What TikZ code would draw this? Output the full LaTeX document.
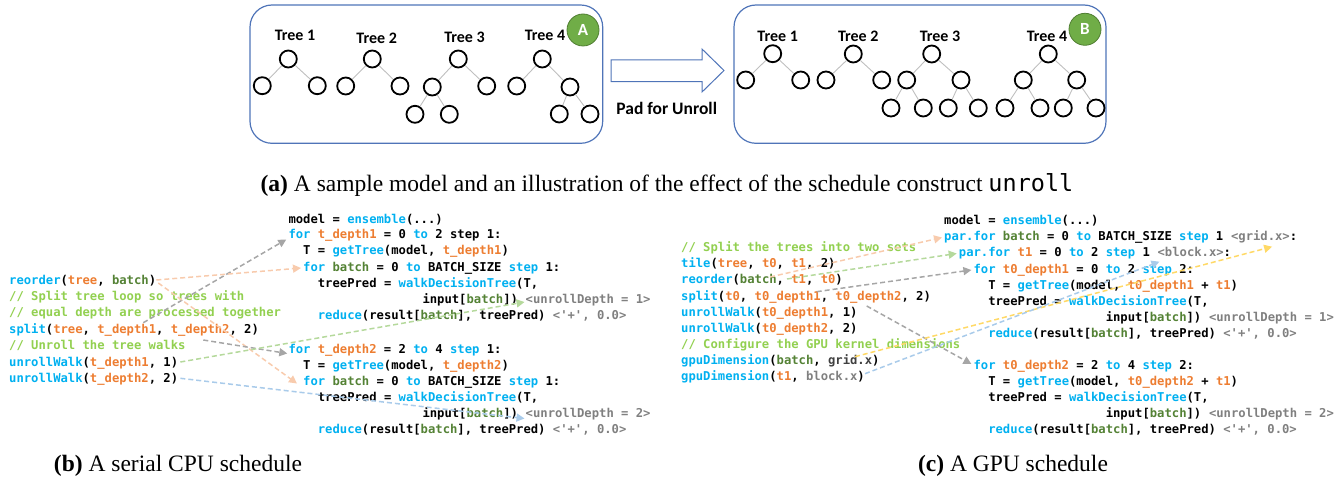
\documentclass[tikz,border=0pt]{standalone}
\usepackage{fontspec}
\setmainfont{Liberation Serif}
\setmonofont{DejaVu Sans Mono}
\newfontfamily\calfont{Carlito}
\usetikzlibrary{arrows.meta}
\definecolor{kwblue}{HTML}{00B0F0}
\definecolor{orng}{HTML}{ED7D31}
\definecolor{dgreen}{HTML}{548235}
\definecolor{cgreen}{HTML}{92D050}
\definecolor{anngrey}{HTML}{808080}
\definecolor{panelblue}{HTML}{4F74B8}
\definecolor{badgegreen}{HTML}{70AD47}
\definecolor{badgeedge}{HTML}{507E32}
\definecolor{agrey}{HTML}{A6A6A6}
\definecolor{apeach}{HTML}{F8CBAD}
\definecolor{agreen}{HTML}{B5D99C}
\definecolor{ablue}{HTML}{A9CBEA}
\definecolor{ayellow}{HTML}{FFD966}
\newcommand\kw[1]{\textcolor{kwblue}{#1}}
\newcommand\orv[1]{\textcolor{orng}{#1}}
\newcommand\btc[1]{\textcolor{dgreen}{#1}}
\newcommand\cmt[1]{\textcolor{cgreen}{#1}}
\newcommand\ann[1]{\textcolor{anngrey}{#1}}
\begin{document}
\begin{tikzpicture}[x=1pt,y=-1pt,
  code/.style={anchor=west, inner sep=0pt, text height=9pt, text depth=3pt,
    font=\ttfamily\bfseries\fontsize{12.2}{14}\selectfont},
  tnode/.style={circle, draw=black, line width=1.8pt, minimum size=17pt, inner sep=0pt},
  tedge/.style={draw=black!25, line width=0.9pt},
  tlabel/.style={inner sep=0pt, font=\calfont\bfseries\fontsize{16}{18}\selectfont},
  panel/.style={draw=panelblue, line width=1.2pt, rounded corners=22pt},
  badge/.style={circle, fill=badgegreen, draw=badgeedge, line width=0.8pt, minimum size=32pt,
    inner sep=0pt, text=white, font=\calfont\bfseries\fontsize{17}{20}\selectfont},
  blockarrow/.style={draw=panelblue, line width=1pt, fill=white},
  caption/.style={inner sep=0pt, font=\fontsize{23.5}{26}\selectfont},
  dar/.style={dash pattern=on 5pt off 3pt, line width=1.5pt, -{Triangle[length=8pt,width=8pt]}}
]
\useasboundingbox (0,0) rectangle (1334,484);

% ---------- panel A ----------
\draw[panel] (250,5) rectangle (602.7,143.3);
\node[tlabel] (a1t) at (295,35.7) {Tree 1};
\node[tnode] (a1r) at (288.3,59) {};
\node[tnode] (a1l) at (262.3,85.7) {};
\node[tnode] (a1rr) at (317.3,85.7) {};
\draw[tedge] (a1r) -- (a1l) (a1r) -- (a1rr);
\node[tlabel] (a2t) at (376.7,38) {Tree 2};
\node[tnode] (a2r) at (372.3,59) {};
\node[tnode] (a2l) at (345.7,86) {};
\node[tnode] (a2rr) at (400,86) {};
\draw[tedge] (a2r) -- (a2l) (a2r) -- (a2rr);
\node[tlabel] (a3t) at (464.5,37) {Tree 3};
\node[tnode] (a3r) at (458.3,59) {};
\node[tnode] (a3l) at (432.3,87) {};
\node[tnode] (a3rr) at (486.7,86) {};
\node[tnode] (a3ll) at (415,114.3) {};
\node[tnode] (a3lr) at (449.3,114.3) {};
\draw[tedge] (a3r) -- (a3l) (a3r) -- (a3rr) (a3l) -- (a3ll) (a3l) -- (a3lr);
\node[tlabel] (a4t) at (545,35.7) {Tree 4};
\node[tnode] (a4r) at (542.3,59) {};
\node[tnode] (a4l) at (516.7,86) {};
\node[tnode] (a4rr) at (570,87) {};
\node[tnode] (a4rl) at (559.3,114) {};
\node[tnode] (a4rrr) at (590,114) {};
\draw[tedge] (a4r) -- (a4l) (a4r) -- (a4rr) (a4rr) -- (a4rl) (a4rr) -- (a4rrr);
\node[badge] (bA) at (583,30) {A};

% ---------- block arrow ----------
\draw[blockarrow] (611,60) -- (702,60) -- (702,49) -- (724,70.5) -- (702,92) -- (702,81.7) -- (611,81.7) -- cycle;
\node[tlabel, font=\calfont\bfseries\fontsize{17.5}{20}\selectfont] (pad) at (666.7,108) {Pad for Unroll};

% ---------- panel B ----------
\draw[panel] (734,5) rectangle (1106,143.3);
\node[tlabel] (b1t) at (777.7,36) {Tree 1};
\node[tnode] (b1r) at (772.7,53.7) {};
\node[tnode] (b1l) at (745.7,80) {};
\node[tnode] (b1rr) at (800.7,80) {};
\draw[tedge] (b1r) -- (b1l) (b1r) -- (b1rr);
\node[tlabel] (b2t) at (858.3,36) {Tree 2};
\node[tnode] (b2r) at (853.3,54) {};
\node[tnode] (b2l) at (826,80) {};
\node[tnode] (b2rr) at (881.7,80) {};
\draw[tedge] (b2r) -- (b2l) (b2r) -- (b2rr);
\node[tlabel] (b3t) at (940,36) {Tree 3};
\node[tnode] (b3r) at (931.7,54) {};
\node[tnode] (b3l) at (906.7,80) {};
\node[tnode] (b3rr) at (961,80) {};
\node[tnode] (b3ll) at (891,108) {};
\node[tnode] (b3lr) at (923.3,108) {};
\node[tnode] (b3rl) at (948.3,108) {};
\node[tnode] (b3rrr) at (978.3,108) {};
\draw[tedge] (b3r) -- (b3l) (b3r) -- (b3rr) (b3l) -- (b3ll) (b3l) -- (b3lr) (b3rr) -- (b3rl) (b3rr) -- (b3rrr);
\node[tlabel] (b4t) at (1047,36) {Tree 4};
\node[tnode] (b4r) at (1048.3,54) {};
\node[tnode] (b4l) at (1023.3,80) {};
\node[tnode] (b4rr) at (1076.7,80) {};
\node[tnode] (b4ll) at (1005,108) {};
\node[tnode] (b4lr) at (1040,108) {};
\node[tnode] (b4rl) at (1063.3,108) {};
\node[tnode] (b4rrr) at (1096,108) {};
\draw[tedge] (b4r) -- (b4l) (b4r) -- (b4rr) (b4l) -- (b4ll) (b4l) -- (b4lr) (b4rr) -- (b4rl) (b4rr) -- (b4rrr);
\node[badge] (bB) at (1085,29.3) {B};

\node[caption] (capa) at (667,185) {\textbf{(a)} A sample model and an illustration of the effect of the schedule construct \texttt{unroll}};

% ---------- (b) left schedule ----------
\node[code] (bl1) at (9,281) {\kw{reorder}(\orv{tree}, \btc{batch})};
\node[code] (bl2) at (9,297.5) {\cmt{// Split tree loop so trees with}};
\node[code] (bl3) at (9,313.8) {\cmt{// equal depth are processed together}};
\node[code] (bl4) at (9,330) {\kw{split}(\orv{tree}, \orv{t\_depth1}, \orv{t\_depth2}, 2)};
\node[code] (bl5) at (9,346.5) {\cmt{// Unroll the tree walks}};
\node[code] (bl6) at (9,363) {\kw{unrollWalk}(\orv{t\_depth1}, 1)};
\node[code] (bl7) at (9,379.3) {\kw{unrollWalk}(\orv{t\_depth2}, 2)};

% ---------- (b) loop nest ----------
\node[code] (bm1) at (288.3,220) {model = \kw{ensemble}(...)};
\node[code] (bm2) at (288.3,235.5) {\kw{for} \orv{t\_depth1} = 0 \kw{to} 2 step 1:};
\node[code] (bm3) at (303,251.5) {T = \kw{getTree}(model, \orv{t\_depth1})};
\node[code] (bm4) at (303,268) {\kw{for} \btc{batch} = 0 \kw{to} BATCH\_SIZE \kw{step} 1:};
\node[code] (bm5) at (317.7,284) {treePred = \kw{walkDecisionTree}(T,};
\node[code] (bm6) at (422.3,300) {input[\btc{batch}])};
\node[code] (bm6a) at ([xshift=7.344pt]bm6.east) {\ann{<unrollDepth = 1>}};
\node[code] (bm7) at (317.7,316.5) {\kw{reduce}(result[\btc{batch}], treePred) \ann{<'+', 0.0>}};
\node[code] (bm8) at (288.3,350.5) {\kw{for} \orv{t\_depth2} = 2 \kw{to} 4 \kw{step} 1:};
\node[code] (bm9) at (303,366.5) {T = \kw{getTree}(model, \orv{t\_depth2})};
\node[code] (bm10) at (303,382.5) {\kw{for} \btc{batch} = 0 \kw{to} BATCH\_SIZE \kw{step} 1:};
\node[code] (bm11) at (317.7,398.5) {treePred = \kw{walkDecisionTree}(T,};
\node[code] (bm12) at (422.3,414.5) {input[\btc{batch}])};
\node[code] (bm12a) at ([xshift=7.344pt]bm12.east) {\ann{<unrollDepth = 2>}};
\node[code] (bm13) at (317.7,430.5) {\kw{reduce}(result[\btc{batch}], treePred) \ann{<'+', 0.0>}};

% ---------- (c) left schedule ----------
\node[code] (cl1) at (681,248.3) {\cmt{// Split the trees into two sets}};
\node[code] (cl2) at (681,264.5) {\kw{tile}(\orv{tree}, \orv{t0}, \orv{t1}, 2)};
\node[code] (cl3) at (681,280.7) {\kw{reorder}(\btc{batch}, \orv{t1}, \orv{t0})};
\node[code] (cl4) at (681,297) {\kw{split}(\orv{t0}, \orv{t0\_depth1}, \orv{t0\_depth2}, 2)};
\node[code] (cl5) at (681,313) {\kw{unrollWalk}(\orv{t0\_depth1}, 1)};
\node[code] (cl6) at (681,329) {\kw{unrollWalk}(\orv{t0\_depth2}, 2)};
\node[code] (cl7) at (681,345) {\cmt{// Configure the GPU kernel dimensions}};
\node[code] (cl8) at (681,361.5) {\kw{gpuDimension}(\btc{batch}, \textcolor{black!75}{grid.x})};
\node[code] (cl9) at (681,377.7) {\kw{gpuDimension}(\orv{t1}, \ann{block.x})};

% ---------- (c) loop nest ----------
\node[code] (cm1) at (944,221.5) {model = \kw{ensemble}(...)};
\node[code] (cm2) at (944,237.5) {\kw{par.for} \btc{batch} = 0 \kw{to} BATCH\_SIZE \kw{step} 1};
\node[code] (cm2a) at ([xshift=7.344pt]cm2.east) {\ann{<grid.x>}:};
\node[code] (cm3) at (958.7,253.5) {\kw{par.for} \orv{t1} = 0 \kw{to} 2 \kw{step} 1};
\node[code] (cm3a) at ([xshift=7.344pt]cm3.east) {\ann{<block.x>}:};
\node[code] (cm4) at (973.4,270) {\kw{for} \orv{t0\_depth1} = 0 \kw{to} 2 \kw{step} 2:};
\node[code] (cm5) at (988.1,286) {T = \kw{getTree}(model, \orv{t0\_depth1} + \orv{t1})};
\node[code] (cm6) at (988.1,302) {treePred = \kw{walkDecisionTree}(T,};
\node[code] (cm7) at (1105.6,318) {input[\btc{batch}])};
\node[code] (cm7a) at ([xshift=7.344pt]cm7.east) {\ann{<unrollDepth = 1>}};
\node[code] (cm8) at (988.1,334.3) {\kw{reduce}(result[\btc{batch}], treePred) \ann{<'+', 0.0>}};
\node[code] (cm9) at (973.4,366) {\kw{for} \orv{t0\_depth2} = 2 \kw{to} 4 \kw{step} 2:};
\node[code] (cm10) at (988.1,382) {T = \kw{getTree}(model, \orv{t0\_depth2} + \orv{t1})};
\node[code] (cm11) at (988.1,398) {treePred = \kw{walkDecisionTree}(T,};
\node[code] (cm12) at (1105.6,414) {input[\btc{batch}])};
\node[code] (cm12a) at ([xshift=7.344pt]cm12.east) {\ann{<unrollDepth = 2>}};
\node[code] (cm13) at (988.1,430) {\kw{reduce}(result[\btc{batch}], treePred) \ann{<'+', 0.0>}};

% ---------- captions ----------
\node[caption] (capb) at (178,466) {\textbf{(b)} A serial CPU schedule};
\node[caption] (capc) at (1013,466) {\textbf{(c)} A GPU schedule};

% ---------- (b) arrows ----------
\coordinate (gb1) at (143.3,322.7);
\coordinate (gb2) at (203.3,340);
\draw[dar, agrey] (gb1) -- ([xshift=-2pt,yshift=-4pt]bm2.west);
\draw[dar, apeach] ([yshift=1pt]bl1.east) -- ([xshift=-2pt]bm4.west);
\draw[dar, apeach] ([xshift=2pt,yshift=-2pt]bl1.east) -- ([xshift=-6pt,yshift=-1pt]bm10.west);
\draw[dar, agrey] (gb2) -- ([xshift=-1pt,yshift=-3pt]bm8.west);
\draw[dar, agreen] ([xshift=2pt,yshift=1pt]bl6.east) -- ([xshift=-1pt,yshift=-2pt]bm6a.west);
\draw[dar, ablue] ([xshift=2pt,yshift=1pt]bl7.east) -- ([xshift=-1pt,yshift=-4pt]bm12a.west);

% ---------- (c) arrows ----------
\coordinate (pc1) at (770,277);
\coordinate (gc1) at (787,279);
\coordinate (sc1) at (816.7,291.7);
\coordinate (sc2) at (866.7,306);
\coordinate (yc1) at (855,356.7);
\draw[dar, apeach] (pc1) -- ([xshift=-2pt]cm2.west);
\draw[dar, agreen] (gc1) -- ([xshift=-2pt]cm3.west);
\draw[dar, agrey] (sc1) -- ([xshift=-2pt]cm4.west);
\draw[dar, agrey] (sc2) -- ([xshift=-2pt,yshift=2pt]cm9.west);
\draw[dar, ayellow] (yc1) -- ([xshift=8pt,yshift=-3pt]cm2a.south);
\draw[dar, ablue] ([yshift=4pt]cl9.east) -- ([xshift=2pt,yshift=-2pt]cm3a.south west);
\end{tikzpicture}
\end{document}
